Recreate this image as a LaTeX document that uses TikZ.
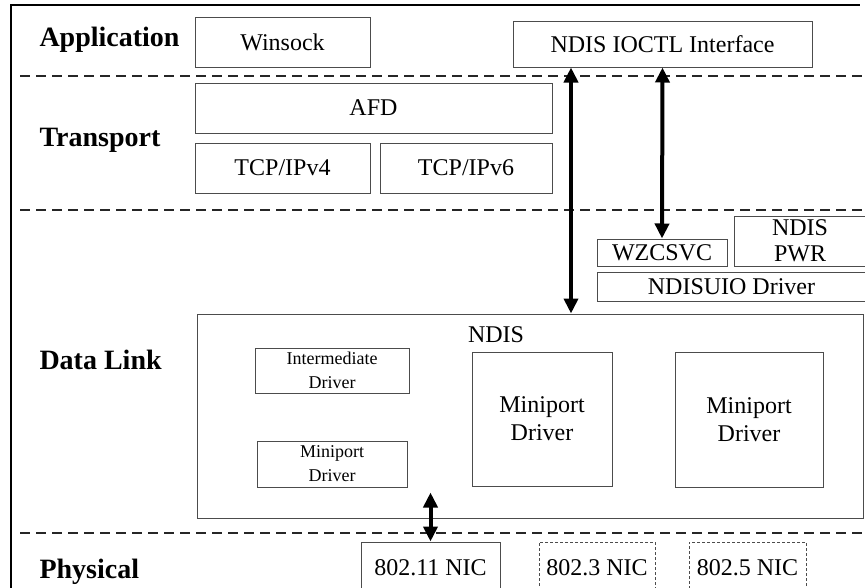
\documentclass[tikz,border=0pt]{standalone}
\usepackage{fontspec}
\setmainfont{Liberation Serif}
\usetikzlibrary{arrows.meta}

\tikzset{
  block/.style={draw=black!70, line width=1pt, inner sep=0pt, align=center,
    font=\fontsize{24}{28}\selectfont},
  smallblock/.style={block, font=\fontsize{18}{24}\selectfont},
  nicbox/.style={block, dash pattern=on 3pt off 2pt},
  layer/.style={anchor=west, font=\fontsize{28}{30}\selectfont\bfseries},
  layersep/.style={line width=2pt, black!85, dash pattern=on 10pt off 6pt},
  biarrow/.style={line width=4pt,
    {Triangle[width=14pt,length=15pt]}-{Triangle[width=14pt,length=15pt]}},
}

\begin{document}
\begin{tikzpicture}[x=1pt, y=-1pt]
  \clip (0,0) rectangle (865,587);
  % frame and layer borders
  \draw[line width=2pt] (11,590) -- (11,5) -- (860,5);
  \foreach \yy in {76, 210, 533}
    \draw[layersep] (20,\yy) -- (868,\yy);

  % layer names
  \node[layer] (app)   at (36, 40)  {Application};
  \node[layer] (trans) at (36, 140) {Transport};
  \node[layer] (link)  at (36, 360) {Data Link};
  \node[layer] (phys)  at (36, 572) {Physical};

  % application and transport
  \node[block, minimum width=175, minimum height=50] (winsock) at (282.5, 42) {Winsock};
  \node[block, minimum width=299, minimum height=46] (ioctl) at (662.5, 44) {NDIS IOCTL Interface};
  \node[block, minimum width=357, minimum height=50] (afd) at (373.5, 108) {AFD};
  \node[block, minimum width=175, minimum height=50] (tcp4) at (282.5, 168) {TCP/IPv4};
  \node[block, minimum width=172, minimum height=50] (tcp6) at (466, 168) {TCP/IPv6};

  % user mode helpers
  \node[block, minimum width=132, minimum height=50] (pwr) at (800, 241) {NDIS\\[-2pt]PWR};
  \node[block, minimum width=130, minimum height=27] (wzc) at (662, 252.5) {WZCSVC};
  \node[block, minimum width=269, minimum height=29] (uio) at (731.5, 286.5) {NDISUIO Driver};

  % ndis
  \node[block, minimum width=666, minimum height=204] (ndis) at (530, 416) {};
  \node[font=\fontsize{24}{28}\selectfont, inner sep=0pt] (ndislbl) at (496, 335) {NDIS};
  \node[smallblock, minimum width=154, minimum height=45] (inter) at (332, 370.5) {Intermediate\\Driver};
  \node[smallblock, minimum width=150, minimum height=46] (mini0) at (332, 464) {Miniport\\Driver};
  \node[block, minimum width=140, minimum height=134] (mini1) at (542, 419) {Miniport\\Driver};
  \node[block, minimum width=148, minimum height=135] (mini2) at (749, 419.5) {Miniport\\Driver};

  % physical
  \node[block, minimum width=139, minimum height=52] (nic11) at (430.5, 568) {802.11 NIC};
  \node[nicbox, minimum width=116, minimum height=52] (nic3) at (597, 568) {802.3 NIC};
  \node[nicbox, minimum width=117, minimum height=52] (nic5) at (747.5, 568) {802.5 NIC};

  % arrows
  \coordinate (nicup) at ([yshift=49pt]nic11.north);
  \draw[biarrow] ([xshift=-91.5pt]ioctl.south) -- ([xshift=-91.5pt]ioctl.south |- ndis.north);
  \draw[biarrow] (ioctl.south) -- (wzc.north);
  \draw[biarrow] (nicup) -- (nic11.north);
\end{tikzpicture}
\end{document}
